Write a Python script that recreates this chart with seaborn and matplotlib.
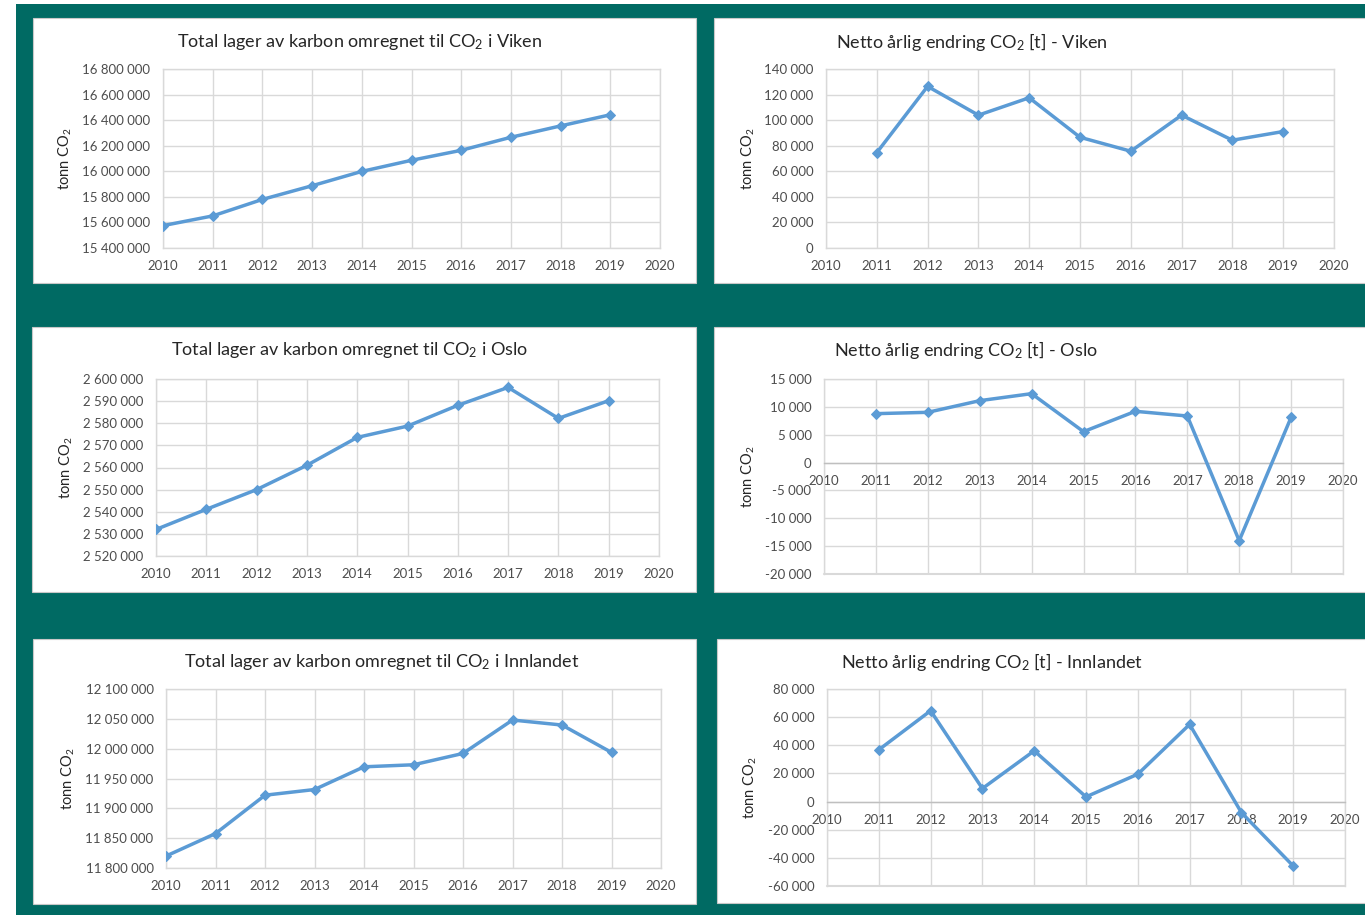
import matplotlib
matplotlib.use("Agg")
import matplotlib.pyplot as plt
import matplotlib.ticker as mticker
from matplotlib.patches import Rectangle
import seaborn as sns
import pandas as pd

# ---- data -------------------------------------------------------------
years_total = [2010, 2011, 2012, 2013, 2014, 2015, 2016, 2017, 2018, 2019]
years_net = [2011, 2012, 2013, 2014, 2015, 2016, 2017, 2018, 2019]

viken_total = [15575000, 15651000, 15780000, 15887000, 15999000,
               16086000, 16164000, 16266000, 16355000, 16442000]
viken_net = [74600, 126400, 103900, 117500, 86600, 75700, 103900, 84300, 91100]

oslo_total = [2532000, 2541100, 2550000, 2561000, 2573600,
              2578700, 2588100, 2596200, 2582200, 2590200]
oslo_net = [8780, 9020, 11110, 12370, 5550, 9200, 8360, -14020, 8120]

innlandet_total = [11820000, 11857700, 11922000, 11931500, 11969600,
                   11973000, 11992000, 12048000, 12039600, 11993700]
innlandet_net = [36800, 64560, 9280, 36090, 3350, 19480, 54830, -7800, -45770]

titles = [
    "Total lager av karbon omregnet til CO$_2$ i Viken",
    "Netto årlig endring CO$_2$ [t] - Viken",
    "Total lager av karbon omregnet til CO$_2$ i Oslo",
    "Netto årlig endring CO$_2$ [t] - Oslo",
    "Total lager av karbon omregnet til CO$_2$ i Innlandet",
    "Netto årlig endring CO$_2$ [t] - Innlandet",
]
y_label = "tonn CO$_2$"

# ---- styling ----------------------------------------------------------
sns.set_theme(style="white")
plt.rcParams["font.family"] = ["Lato", "DejaVu Sans"]
plt.rcParams["mathtext.fontset"] = "custom"
plt.rcParams["mathtext.rm"] = "Lato"
plt.rcParams["mathtext.default"] = "regular"
plt.rcParams["axes.unicode_minus"] = False

TEAL = "#006A63"
BLUE = "#5B9BD5"
GRID = "#D9D9D9"
TICK = "#4D4D4D"

W, H = 1365, 915
fig = plt.figure(figsize=(W / 100, H / 100), dpi=100, facecolor="white")


def fx(px):
    return px / W


def fy(py):
    return 1 - py / H


# teal backdrop
fig.patches.append(Rectangle((fx(16), fy(915)), fx(W - 16), 911 / H,
                             transform=fig.transFigure, facecolor=TEAL,
                             edgecolor="none", zorder=0))

# white chart cards: (left, right, top, bottom) in pixels
cards = [(33, 696, 18, 283), (714, 1366, 18, 283),
         (32, 696, 327, 592), (714, 1366, 327, 592),
         (33, 696, 639, 904), (717, 1366, 639, 903)]
for l, r, t, b in cards:
    fig.patches.append(Rectangle((fx(l), fy(b)), fx(r - l), (b - t) / H,
                                 transform=fig.transFigure, facecolor="white",
                                 edgecolor="#C8C8C8", linewidth=0.8, zorder=1))

# plot areas: (left, right, top, bottom) in pixels
areas = [(163, 660, 69, 248), (826, 1334, 69, 248),
         (156, 659, 379, 556), (824, 1343, 379, 574),
         (166, 661, 689, 868), (827, 1345, 689, 886)]
title_pos = [(360, 42), (972, 42), (350, 350), (966, 350), (382, 662), (992, 662)]
ylabel_x = [65, 748, 66, 748, 68, 750]

series = [
    (years_total, viken_total, (15400000, 16800000, 200000)),
    (years_net, viken_net, (0, 140000, 20000)),
    (years_total, oslo_total, (2520000, 2600000, 10000)),
    (years_net, oslo_net, (-20000, 15000, 5000)),
    (years_total, innlandet_total, (11800000, 12100000, 50000)),
    (years_net, innlandet_net, (-60000, 80000, 20000)),
]

fmt = mticker.FuncFormatter(lambda v, p: f"{v:,.0f}".replace(",", " "))

for i, ((xs, ys, (lo, hi, step)), (l, r, t, b)) in enumerate(zip(series, areas)):
    ax = fig.add_axes([fx(l), fy(b), fx(r - l), (b - t) / H], zorder=2)
    ax.set_facecolor("none")
    df = pd.DataFrame({"year": xs, "value": ys})
    sns.lineplot(data=df, x="year", y="value", ax=ax, color=BLUE,
                 linewidth=2.5, marker="D", markersize=5,
                 markeredgecolor=BLUE, markerfacecolor=BLUE, zorder=3)

    ax.set_xlim(2010, 2020)
    ax.set_ylim(lo, hi)
    ax.set_xticks(range(2010, 2021))
    ax.set_yticks(list(range(lo, hi + 1, step)))
    ax.yaxis.set_major_formatter(fmt)
    ax.grid(True, color=GRID, linewidth=1.0)
    ax.set_axisbelow(True)
    for sp in ax.spines.values():
        sp.set_color(GRID)
        sp.set_linewidth(1.0)
    if lo < 0:
        # category axis crosses at zero; keep the lower edge of the plot area
        ax.spines["bottom"].set_position(("data", 0))
        ax.spines["bottom"].set_color("#BFBFBF")
        ax.axhline(lo, color=GRID, linewidth=1.5, zorder=1, clip_on=False)
    ax.tick_params(axis="both", length=0, labelsize=9.5, labelcolor=TICK)
    ax.tick_params(axis="x", pad=9)
    ax.tick_params(axis="y", pad=9)
    ax.set_xlabel("")
    ax.set_ylabel("")

    tx, ty = title_pos[i]
    fig.text(fx(tx), fy(ty), titles[i], ha="center", va="center",
             fontsize=13, color="#262626", zorder=4)
    fig.text(fx(ylabel_x[i]), fy((t + b) / 2), y_label, rotation=90,
             ha="center", va="center", fontsize=10.5, color="#262626", zorder=4)

fig.savefig("out.png", dpi=100, facecolor="white")
